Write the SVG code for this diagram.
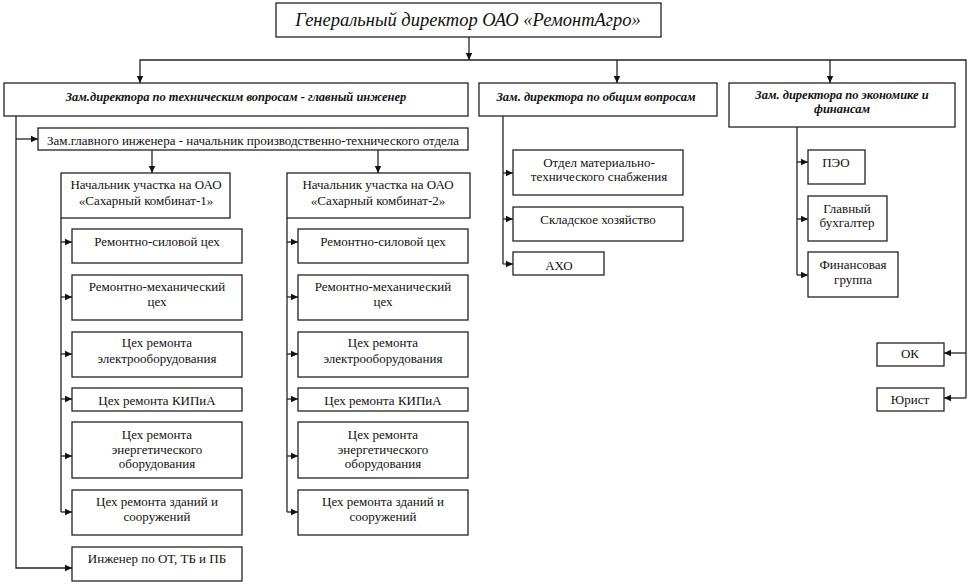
<svg xmlns="http://www.w3.org/2000/svg" width="970" height="584" viewBox="0 0 970 584">
<defs>
<marker id="ah" markerUnits="userSpaceOnUse" markerWidth="8" markerHeight="8" refX="7" refY="4" orient="auto">
<path d="M0,0.8 L7,4 L0,7.2 z" fill="#111"/>
</marker>
<style>
rect{fill:#fff;stroke:#222;stroke-width:1.3}
text{font-family:'Liberation Serif','Times New Roman',serif;font-size:13px;fill:#111;text-anchor:middle}
.t{font-size:18.5px;font-style:italic}
.h{font-size:12.5px;font-style:italic;font-weight:bold}
#conn path{fill:none;stroke:#222;stroke-width:1.3}
.a{marker-end:url(#ah)}
</style>
</defs>
<rect x="0" y="0" width="970" height="584" style="fill:#fff;stroke:none"/>
<g id="conn">
<path class="a" d="M469,37 V60"/>
<path d="M966,398 V60 H140 V83" class="a"/>
<path class="a" d="M617,60 V83"/>
<path class="a" d="M830,60 V83"/>
<path class="a" d="M966,353 H944"/>
<path class="a" d="M966,398 H944"/>
<path class="a" d="M16,116 V568 H72"/>
<path class="a" d="M16,139 H38"/>
<path class="a" d="M152,150 V173"/>
<path class="a" d="M378,150 V173"/>
<path d="M61,218 V512"/>
<path class="a" d="M61,242 H72"/>
<path class="a" d="M61,297 H72"/>
<path class="a" d="M61,354 H72"/>
<path class="a" d="M61,399 H72"/>
<path class="a" d="M61,456 H72"/>
<path class="a" d="M61,512 H72"/>
<path d="M287,218 V512"/>
<path class="a" d="M287,242 H298"/>
<path class="a" d="M287,297 H298"/>
<path class="a" d="M287,354 H298"/>
<path class="a" d="M287,399 H298"/>
<path class="a" d="M287,456 H298"/>
<path class="a" d="M287,512 H298"/>
<path d="M503,116 V264"/>
<path class="a" d="M503,173 H513"/>
<path class="a" d="M503,219 H513"/>
<path class="a" d="M503,264 H513"/>
<path d="M797,127 V275"/>
<path class="a" d="M797,162 H808"/>
<path class="a" d="M797,219 H808"/>
<path class="a" d="M797,275 H808"/>
</g>
<g id="gd"><rect x="276" y="3" width="385" height="34"/><text class="t" x="468" y="26">Генеральный директор ОАО «РемонтАгро»</text></g>
<g id="zam-tech"><rect x="4" y="83" width="464" height="33"/><text class="h" x="236" y="101">Зам.директора по техническим  вопросам - главный инженер</text></g>
<g id="zam-gen"><rect x="479" y="83" width="238" height="33"/><text class="h" x="596" y="101">Зам. директора по общим вопросам</text></g>
<g id="zam-econ"><rect x="729" y="83" width="226" height="44"/><text class="h" x="842" y="99">Зам. директора по экономике и</text><text class="h" x="842" y="113">финансам</text></g>
<g id="zam-gi"><rect x="38" y="128" width="430" height="22"/><text x="253" y="145">Зам.главного инженера - начальник производственно-технического отдела</text></g>
<g id="nach1"><rect x="61" y="173" width="169" height="45"/><text x="146" y="189">Начальник участка на ОАО</text><text x="146" y="205">«Сахарный комбинат-1»</text></g>
<g id="nach2"><rect x="287" y="173" width="183" height="45"/><text x="378" y="189">Начальник участка на ОАО</text><text x="378" y="205">«Сахарный комбинат-2»</text></g>
<g id="c1-1"><rect x="72" y="229" width="170" height="34"/><text x="157" y="246">Ремонтно-силовой цех</text></g>
<g id="c1-2"><rect x="72" y="275" width="170" height="45"/><text x="157" y="291">Ремонтно-механический</text><text x="157" y="306">цех</text></g>
<g id="c1-3"><rect x="72" y="332" width="170" height="45"/><text x="157" y="347">Цех ремонта</text><text x="157" y="363">электрооборудования</text></g>
<g id="c1-4"><rect x="72" y="388" width="170" height="23"/><text x="157" y="405">Цех ремонта КИПиА</text></g>
<g id="c1-5"><rect x="72" y="422" width="170" height="56"/><text x="157" y="439">Цех ремонта</text><text x="157" y="454">энергетического</text><text x="157" y="468">оборудования</text></g>
<g id="c1-6"><rect x="72" y="490" width="170" height="45"/><text x="157" y="506">Цех ремонта зданий и</text><text x="157" y="521">сооружений</text></g>
<g id="ing-ot"><rect x="72" y="547" width="170" height="34"/><text x="157" y="563">Инженер по ОТ,  ТБ и ПБ</text></g>
<g id="c2-1"><rect x="298" y="229" width="170" height="34"/><text x="383" y="246">Ремонтно-силовой цех</text></g>
<g id="c2-2"><rect x="298" y="275" width="170" height="45"/><text x="383" y="291">Ремонтно-механический</text><text x="383" y="306">цех</text></g>
<g id="c2-3"><rect x="298" y="332" width="170" height="45"/><text x="383" y="347">Цех ремонта</text><text x="383" y="363">электрооборудования</text></g>
<g id="c2-4"><rect x="298" y="388" width="170" height="23"/><text x="383" y="405">Цех ремонта КИПиА</text></g>
<g id="c2-5"><rect x="298" y="422" width="170" height="56"/><text x="383" y="439">Цех ремонта</text><text x="383" y="454">энергетического</text><text x="383" y="468">оборудования</text></g>
<g id="c2-6"><rect x="298" y="490" width="170" height="45"/><text x="383" y="506">Цех ремонта зданий и</text><text x="383" y="521">сооружений</text></g>
<g id="omts"><rect x="513" y="150" width="170" height="45"/><text x="599" y="167">Отдел материально-</text><text x="599" y="181">технического снабжения</text></g>
<g id="sklad"><rect x="513" y="207" width="170" height="34"/><text x="598" y="224">Складское хозяйство</text></g>
<g id="aho"><rect x="513" y="252" width="91" height="23"/><text x="559" y="270">АХО</text></g>
<g id="peo"><rect x="808" y="150" width="57" height="34"/><text x="836" y="167">ПЭО</text></g>
<g id="buh"><rect x="808" y="196" width="79" height="45"/><text x="847" y="213">Главный</text><text x="847" y="227">бухгалтер</text></g>
<g id="fin"><rect x="808" y="252" width="90" height="45"/><text x="853" y="269">Финансовая</text><text x="853" y="284">группа</text></g>
<g id="ok"><rect x="877" y="343" width="67" height="23"/><text x="910" y="358">ОК</text></g>
<g id="jur"><rect x="877" y="388" width="67" height="23"/><text x="910" y="404">Юрист</text></g>
</svg>
